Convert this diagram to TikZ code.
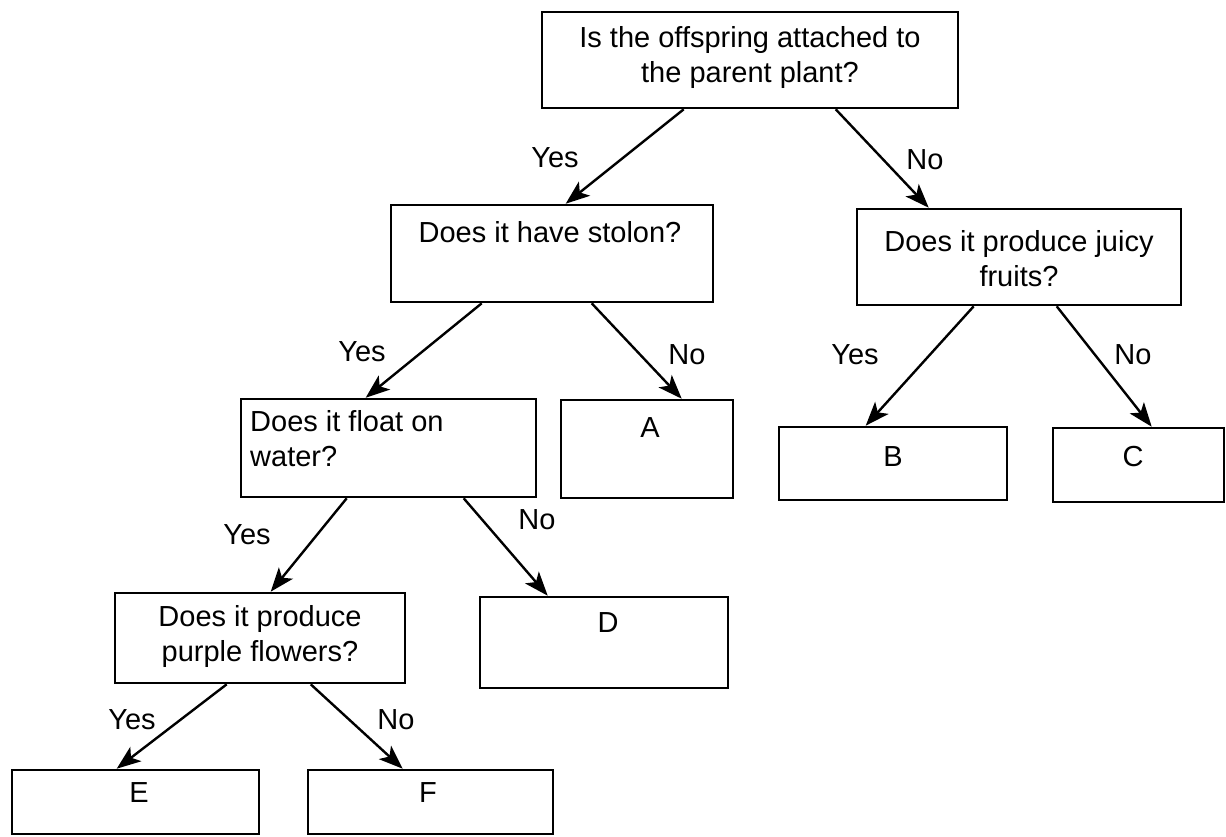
\documentclass[tikz,border=0pt]{standalone}
\usepackage{fontspec}
\setmainfont{Liberation Sans}
\usetikzlibrary{arrows.meta}
\begin{document}
\begin{tikzpicture}[x=1pt,y=-1pt,
  every node/.style={font=\fontsize{29}{35}\selectfont},
  box/.style={draw, line width=2.6pt, inner sep=0pt},
  txt/.style={inner sep=0pt},
  lbl/.style={inner sep=0pt},
  arr/.style={line width=2.4pt, -{Stealth[length=24pt,width=18pt,inset=6pt]}}]
\useasboundingbox (0,0) rectangle (1226,837);
% boxes
\node[box, minimum width=416pt, minimum height=96pt] (top) at (750,60) {};
\node[box, minimum width=322pt, minimum height=97pt] (stolon) at (552,253.5) {};
\node[box, minimum width=324pt, minimum height=96pt] (juicy) at (1019,257) {};
\node[box, minimum width=295pt, minimum height=98pt] (float) at (388.5,448) {};
\node[box, minimum width=172pt, minimum height=98pt] (A) at (647,449) {};
\node[box, minimum width=228pt, minimum height=73pt] (B) at (893,463.5) {};
\node[box, minimum width=171pt, minimum height=74pt] (C) at (1138.5,465) {};
\node[box, minimum width=290pt, minimum height=90pt] (purple) at (260,638) {};
\node[box, minimum width=248pt, minimum height=91pt] (D) at (604,642.5) {};
\node[box, minimum width=247pt, minimum height=64pt] (E) at (135.5,802) {};
\node[box, minimum width=245pt, minimum height=64pt] (F) at (430.5,802) {};
% texts
\node[txt, align=center] (ttop) at (750,58) {Is the offspring attached to\\the parent plant?};
\node[txt] (tstolon) at (550,232) {Does it have stolon?};
\node[txt, align=center] (tjuicy) at (1019,259) {Does it produce juicy\\fruits?};
\node[txt, align=left, anchor=west] (tfloat) at (250,439) {Does it float on\\water?};
\node[txt] (tA) at (650,428) {A};
\node[txt] (tB) at (893,457) {B};
\node[txt] (tC) at (1133,457) {C};
\node[txt, align=center] (tpurple) at (260,636) {Does it produce\\purple flowers?};
\node[txt] (tD) at (608,623) {D};
\node[txt] (tE) at (139,793) {E};
\node[txt] (tF) at (428,793) {F};
% arrows
\draw[arr] ([xshift=143pt]top.south west) -- ([xshift=176pt]stolon.north west);
\draw[arr] ([xshift=295pt]top.south west) -- ([xshift=73pt]juicy.north west);
\draw[arr] ([xshift=92pt]stolon.south west) -- ([xshift=126pt]float.north west);
\draw[arr] ([xshift=202pt]stolon.south west) -- ([xshift=122pt]A.north west);
\draw[arr] ([xshift=118pt]juicy.south west) -- ([xshift=88pt]B.north west);
\draw[arr] ([xshift=201pt]juicy.south west) -- ([xshift=100pt]C.north west);
\draw[arr] ([xshift=107pt]float.south west) -- ([xshift=157pt]purple.north west);
\draw[arr] ([xshift=224pt]float.south west) -- ([xshift=69pt]D.north west);
\draw[arr] ([xshift=113pt]purple.south west) -- ([xshift=106pt]E.north west);
\draw[arr] ([xshift=197pt]purple.south west) -- ([xshift=96pt]F.north west);
% labels
\node[lbl] (l1) at (555,158) {Yes};
\node[lbl] (l2) at (925,160) {No};
\node[lbl] (l3) at (362,352) {Yes};
\node[lbl] (l4) at (687,355) {No};
\node[lbl] (l5) at (855,355) {Yes};
\node[lbl] (l6) at (1133,355) {No};
\node[lbl] (l7) at (247,535) {Yes};
\node[lbl] (l8) at (537,520) {No};
\node[lbl] (l9) at (132,720) {Yes};
\node[lbl] (l10) at (396,720) {No};
\end{tikzpicture}
\end{document}
